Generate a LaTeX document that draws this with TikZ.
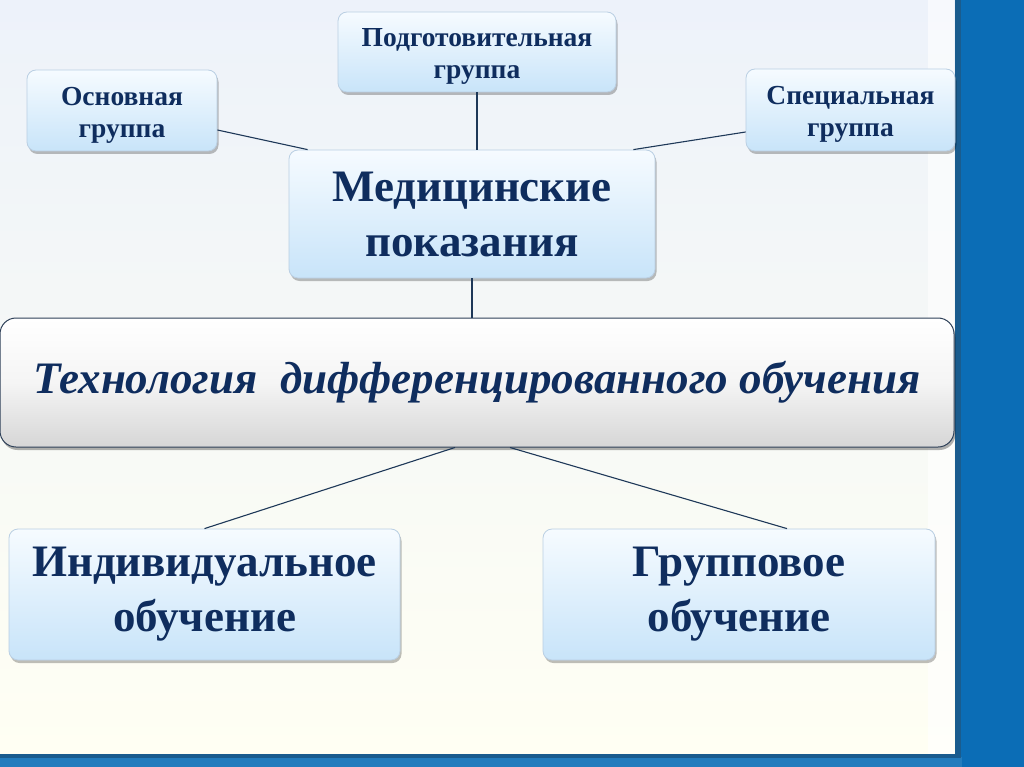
\documentclass[tikz,border=0pt]{standalone}
\usepackage{fontspec}
\setmainfont{Liberation Serif}
\usetikzlibrary{shadows,calc}
\definecolor{txt}{HTML}{0F2D5E}
\definecolor{lnc}{HTML}{1E3858}
\definecolor{boxtop}{HTML}{F6FBFF}
\definecolor{boxbot}{HTML}{C8E4F9}
\definecolor{boxdraw}{HTML}{BACFE3}
\definecolor{bgtop}{HTML}{EDF2FA}
\definecolor{bgbot}{HTML}{FFFFF3}
\definecolor{panel}{HTML}{0B6DB6}
\definecolor{paneldark}{HTML}{1A5C8E}
\definecolor{bardraw}{HTML}{2E4058}
\tikzset{
  gbox/.style={rectangle, rounded corners=9pt, draw=boxdraw, line width=0.8pt,
    top color=boxtop, bottom color=boxbot, text=txt, align=center, inner sep=0pt,
    drop shadow={shadow xshift=1.5pt, shadow yshift=-3pt, fill=black, opacity=0.25}},
  smalltext/.style={font=\fontsize{27.5}{32}\selectfont\bfseries, text=txt, align=center, yshift=-4.5pt},
  bigtext/.style={font=\fontsize{45}{55}\selectfont\bfseries},
  barbox/.style={rectangle, rounded corners=16pt, draw=bardraw, line width=1pt,
    top color=white, bottom color=black!16, middle color=white!96!black, text=txt, inner sep=0pt,
    drop shadow={shadow xshift=1.5pt, shadow yshift=-3pt, fill=black, opacity=0.3}},
  conn/.style={draw=lnc, line width=1.1pt}
}
\begin{document}
\begin{tikzpicture}[x=1pt,y=-1pt]
\useasboundingbox (0,0) rectangle (1024,767);
% background
\shade[top color=bgtop, bottom color=bgbot] (0,0) rectangle (956,755);
\fill[white, opacity=0.6] (928,0) rectangle (954,755);
\fill[panel] (956,0) rectangle (1024,767);
\fill[panel!90!white] (0,757) rectangle (962,767);
\fill[paneldark] (955,0) rectangle (961,758);
\fill[paneldark] (0,754) rectangle (961,758);
% nodes
\node[gbox, minimum width=190pt, minimum height=81pt,
  label={[smalltext]center:Основная\\группа}] (osn) at (122,110.5) {};
\node[gbox, minimum width=278pt, minimum height=80pt,
  label={[smalltext]center:Подготовительная\\группа}] (podg) at (477,52) {};
\node[gbox, minimum width=209pt, minimum height=82pt,
  label={[smalltext]center:Специальная\\группа}] (spec) at (850.5,110) {};
\node[gbox, bigtext, minimum width=366pt, minimum height=128pt] (med) at (472,214) {Медицинские\\показания};
\node[barbox, minimum width=954pt, minimum height=129pt, font=\fontsize{45}{54}\selectfont\bfseries\itshape] (bar) at (477,382.5) {Технология\ \ дифференцированного обучения};
\node[gbox, bigtext, minimum width=391pt, minimum height=131pt] (ind) at (204.5,594.5) {Индивидуальное\\обучение};
\node[gbox, bigtext, minimum width=392pt, minimum height=131pt] (grp) at (739,594.5) {Групповое\\обучение};
% connectors
\draw[conn] ([yshift=-19.5pt]osn.east) -- ([xshift=19pt]med.north west);
\draw[conn] (podg.south) -- (podg.south |- med.north);
\draw[conn] ([yshift=-22pt]spec.west) -- ([xshift=-22pt]med.north east);
\draw[conn] (med.south) -- (med.south |- bar.north);
\draw[conn] ([xshift=-22pt]bar.south) -- (ind.north);
\draw[conn] ([xshift=33pt]bar.south) -- ([xshift=48pt]grp.north);
\end{tikzpicture}
\end{document}
